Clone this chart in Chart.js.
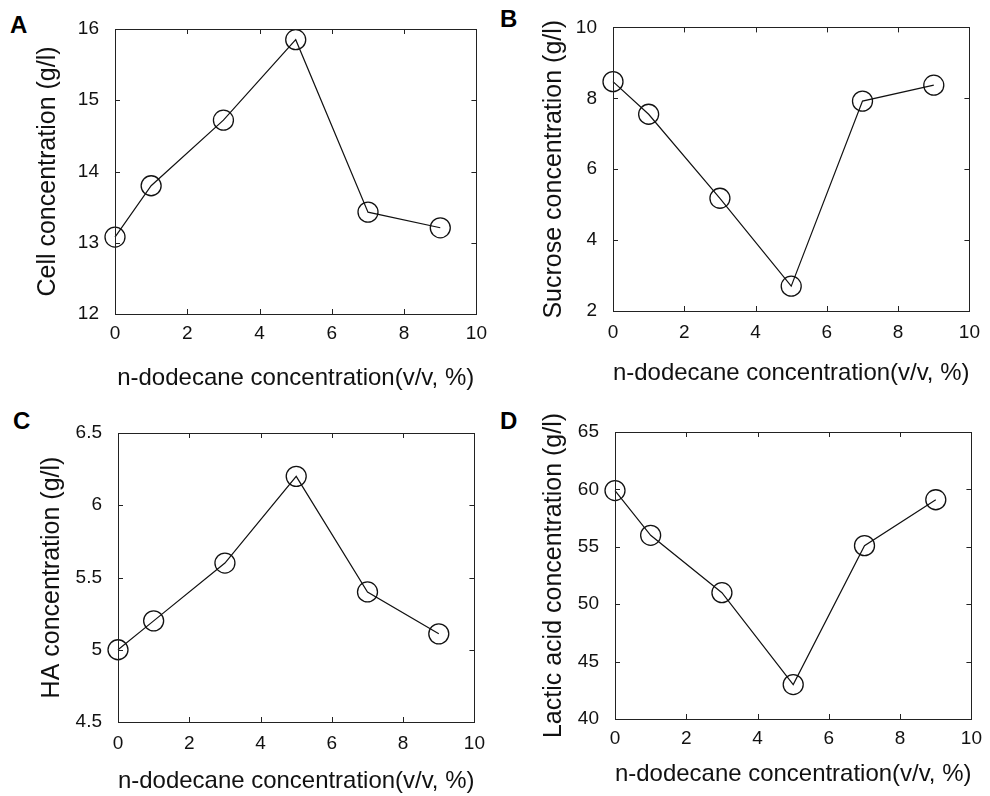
<!DOCTYPE html>
<html>
<head>
<meta charset="utf-8">
<script src="https://cdn.jsdelivr.net/npm/chart.js@4.4.1/dist/chart.umd.min.js"></script>
<style>
  html, body { margin: 0; padding: 0; background: #fff; }
  body { width: 990px; height: 796px; position: relative; overflow: hidden; }
  .panel { position: absolute; }
  .letter { position: absolute; font: bold 24px "Liberation Sans", Arial, sans-serif; line-height: 1; color: #000; }
</style>
</head>
<body>
<div class="letter" style="left:10px;top:13px">A</div>
<div class="letter" style="left:500px;top:7px">B</div>
<div class="letter" style="left:13px;top:409px">C</div>
<div class="letter" style="left:500px;top:409px">D</div>
<div class="panel" id="pA" style="left:0;top:0;width:495px;height:398px"><canvas id="cA"></canvas></div>
<div class="panel" id="pB" style="left:495px;top:0;width:495px;height:398px"><canvas id="cB"></canvas></div>
<div class="panel" id="pC" style="left:0;top:398px;width:495px;height:398px"><canvas id="cC"></canvas></div>
<div class="panel" id="pD" style="left:495px;top:398px;width:495px;height:398px"><canvas id="cD"></canvas></div>
<script>
// ---- data ----
const dodecane = [0, 1, 3, 5, 7, 9];
const cellConc = [13.08, 13.8, 14.72, 15.85, 13.43, 13.21];
const sucroseConc = [8.47, 7.55, 5.18, 2.7, 7.92, 8.37];
const haConc = [5.0, 5.2, 5.6, 6.2, 5.4, 5.11];
const lacticConc = [59.9, 56.0, 51.0, 43.0, 55.1, 59.1];

const xTicks = [0, 2, 4, 6, 8, 10];
const yTicksA = [12, 13, 14, 15, 16];
const yTicksB = [2, 4, 6, 8, 10];
const yTicksC = [4.5, 5, 5.5, 6, 6.5];
const yTicksD = [40, 45, 50, 55, 60, 65];

const xTitle = 'n-dodecane concentration(v/v, %)';
const yTitleA = 'Cell concentration (g/l)';
const yTitleB = 'Sucrose concentration (g/l)';
const yTitleC = 'HA concentration (g/l)';
const yTitleD = 'Lactic acid concentration (g/l)';

// ---- drawing ----
const FONT = '"Liberation Sans", Arial, Helvetica, sans-serif';
const INK = '#111';
const XTITLE_SIZE = 24;
const YTITLE_SIZE = 25;
const TICK_SIZE = 19;

const boxPlugin = {
  id: 'box',
  afterDraw(chart) {
    const ctx = chart.ctx;
    const a = chart.chartArea;
    const xs = chart.scales.x, ys = chart.scales.y;
    ctx.save();
    ctx.strokeStyle = '#222';
    ctx.lineWidth = 1;
    ctx.strokeRect(Math.round(a.left) + 0.5, Math.round(a.top) + 0.5,
                   Math.round(a.right - a.left), Math.round(a.bottom - a.top));
    const L = 5;
    ctx.beginPath();
    xs.ticks.forEach(t => {
      const px = Math.round(xs.getPixelForValue(t.value)) + 0.5;
      if (px <= a.left + 1 || px >= a.right - 1) return;
      ctx.moveTo(px, a.bottom); ctx.lineTo(px, a.bottom - L);
      ctx.moveTo(px, a.top); ctx.lineTo(px, a.top + L);
    });
    ys.ticks.forEach(t => {
      const py = Math.round(ys.getPixelForValue(t.value)) + 0.5;
      if (py <= a.top + 1 || py >= a.bottom - 1) return;
      ctx.moveTo(a.left, py); ctx.lineTo(a.left + L, py);
      ctx.moveTo(a.right, py); ctx.lineTo(a.right - L, py);
    });
    ctx.stroke();
    ctx.restore();
  }
};

function makePanel(cfg) {
  const xlh = XTITLE_SIZE * 1.2;
  const ylh = YTITLE_SIZE * 1.2;
  const cW = 495, cH = 398;
  const yTicksArr = cfg.yTicks;
  new Chart(document.getElementById(cfg.canvas), {
    type: 'line',
    data: {
      datasets: [{
        data: dodecane.map((x, i) => ({ x: x, y: cfg.values[i] })),
        borderColor: INK,
        borderWidth: 1.2,
        pointStyle: 'circle',
        pointRadius: 10,
        pointHoverRadius: 10,
        pointBorderWidth: 1.3,
        pointBorderColor: INK,
        pointBackgroundColor: 'rgba(0,0,0,0)',
        fill: false,
        tension: 0,
        clip: false
      }]
    },
    options: {
      responsive: true,
      maintainAspectRatio: false,
      animation: false,
      events: [],
      layout: { padding: { top: cfg.T, right: cW - cfg.R, left: 0, bottom: 0 } },
      plugins: { legend: { display: false }, tooltip: { enabled: false } },
      scales: {
        x: {
          type: 'linear',
          min: xTicks[0], max: xTicks[xTicks.length - 1],
          afterBuildTicks: s => { s.ticks = xTicks.map(v => ({ value: v })); },
          afterFit: s => { s.height = cH - cfg.B; },
          grid: { display: false, drawTicks: false },
          border: { display: true, color: '#222', width: 1 },
          ticks: {
            color: INK, padding: cfg.xTickPad, maxRotation: 0,
            font: { family: FONT, size: TICK_SIZE },
            callback: v => String(v)
          },
          title: {
            display: true, text: xTitle, color: INK,
            font: { family: FONT, size: XTITLE_SIZE },
            padding: { top: 0, bottom: cH - cfg.xTitleY - xlh / 2 }
          }
        },
        y: {
          type: 'linear',
          min: yTicksArr[0], max: yTicksArr[yTicksArr.length - 1],
          afterBuildTicks: s => { s.ticks = yTicksArr.map(v => ({ value: v })); },
          afterFit: s => { s.width = cfg.L; },
          grid: { display: false, drawTicks: false },
          border: { display: true, color: '#222', width: 1 },
          ticks: {
            color: INK, padding: 16,
            font: { family: FONT, size: TICK_SIZE },
            callback: v => String(v)
          },
          title: {
            display: true, text: cfg.yTitle, color: INK,
            font: { family: FONT, size: YTITLE_SIZE },
            padding: { top: cfg.yTitleX - ylh / 2, bottom: 0 }
          }
        }
      }
    },
    plugins: [boxPlugin]
  });
}

// positions relative to each 495x398 panel
makePanel({ canvas: 'cA', values: cellConc, yTicks: yTicksA, yTitle: yTitleA,
  L: 115, R: 479, T: 29, B: 314, yTitleX: 48, xTitleY: 378, xTickPad: 8 });
makePanel({ canvas: 'cB', values: sucroseConc, yTicks: yTicksB, yTitle: yTitleB,
  L: 118, R: 482, T: 25, B: 311, yTitleX: 59, xTitleY: 373, xTickPad: 10 });
makePanel({ canvas: 'cC', values: haConc, yTicks: yTicksC, yTitle: yTitleC,
  L: 118, R: 480, T: 35, B: 324, yTitleX: 52, xTitleY: 383, xTickPad: 10 });
makePanel({ canvas: 'cD', values: lacticConc, yTicks: yTicksD, yTitle: yTitleD,
  L: 120, R: 483, T: 34, B: 321, yTitleX: 59, xTitleY: 376, xTickPad: 8 });
</script>
</body>
</html>
